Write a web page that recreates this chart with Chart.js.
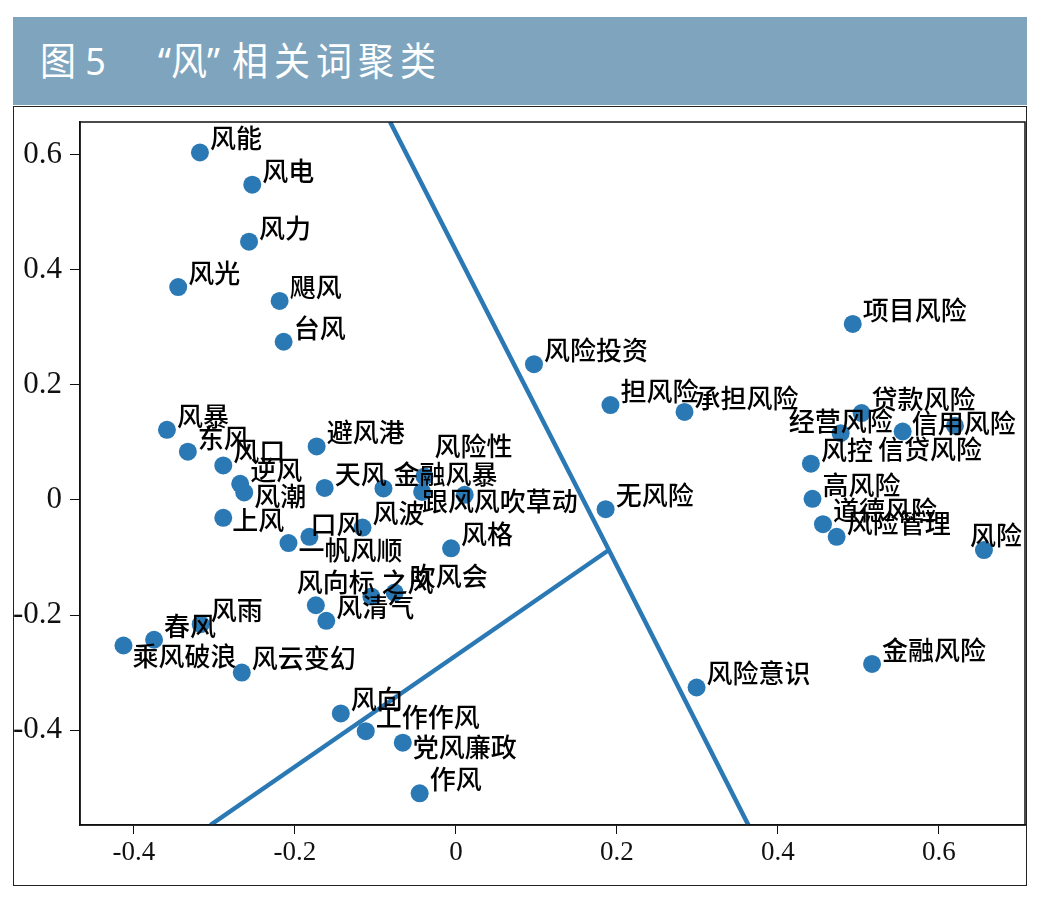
<!DOCTYPE html>
<html>
<head>
<meta charset="utf-8">
<script src="https://cdn.jsdelivr.net/npm/chart.js@4.4.1/dist/chart.umd.min.js"></script>
<style>
  html, body { margin: 0; padding: 0; background: #fff; }
  body { width: 1038px; height: 912px; position: relative; overflow: hidden; }
  #banner { position: absolute; left: 13px; top: 17px; width: 1014px; height: 88px; background: #7ea4be; }
  #banner span { position: absolute; top: 24px; color: #fff; font: 400 36px "Noto Sans", "Noto Sans CJK SC", sans-serif; line-height: 40px; white-space: pre; transform: scaleY(1.06); }
  #frame { position: absolute; left: 13px; top: 106px; width: 1012px; height: 778px; border: 1px solid #222; }
  #chart { position: absolute; left: 0; top: 0; }
</style>
</head>
<body>
<div id="banner"><span style="left:27px">图 5</span><span style="left:145px">“风”</span><span style="left:219px; letter-spacing:6px">相关词聚类</span></div>
<div id="frame"></div>
<canvas id="chart" width="1038" height="912"></canvas>
<script>
// words and their 2-d coordinates
var words = ['风能', '风电', '风力', '风光', '飓风', '台风', '风暴', '东风', '风口', '逆风',
  '风潮', '上风', '避风港', '天风', '金融风暴', '风险性', '跟风', '风吹草动', '风波', '口风',
  '一帆风顺', '风格', '风向标', '风清气', '之风', '吹风会', '乘风破浪', '春风', '风雨', '风云变幻',
  '风向', '工作作风', '党风廉政', '作风', '风险投资', '项目风险', '担风险', '承担风险', '贷款风险', '经营风险',
  '信用风险', '信贷风险', '风控', '高风险', '道德风险', '风险管理', '风险', '无风险', '风险意识', '金融风险']
var xVals = [-0.318, -0.253, -0.257, -0.345, -0.219, -0.214, -0.359, -0.333, -0.289, -0.268,
  -0.263, -0.289, -0.173, -0.163, -0.090, -0.039, -0.042, 0.011, -0.116, -0.182,
  -0.208, -0.006, -0.174, -0.161, -0.105, -0.076, -0.413, -0.375, -0.317, -0.266,
  -0.143, -0.112, -0.066, -0.045, 0.097, 0.493, 0.192, 0.284, 0.504, 0.478,
  0.555, 0.620, 0.441, 0.443, 0.456, 0.473, 0.656, 0.186, 0.299, 0.517]
var yVals = [0.604, 0.548, 0.449, 0.370, 0.346, 0.275, 0.122, 0.084, 0.060, 0.028,
  0.013, -0.031, 0.093, 0.021, 0.020, 0.041, 0.014, 0.009, -0.048, -0.064,
  -0.075, -0.084, -0.183, -0.210, -0.168, -0.161, -0.253, -0.243, -0.216, -0.300,
  -0.371, -0.402, -0.422, -0.510, 0.236, 0.306, 0.165, 0.153, 0.151, 0.116,
  0.119, 0.129, 0.063, 0.002, -0.042, -0.064, -0.087, -0.016, -0.326, -0.285]

// cluster boundaries
var boundaryA = [[-0.0817, 0.657], [0.190, -0.087], [0.3633, -0.565]]
var boundaryB = [[-0.305, -0.565], [0.190, -0.087]]

var xTicks = [-0.4, -0.2, 0, 0.2, 0.4, 0.6]
var yTicks = [-0.4, -0.2, 0, 0.2, 0.4, 0.6]

// label placement (px from the dot), default is up-right
var nudge = {
  '风潮': [10, 4], '上风': [9, 2], '口风': [1, -13], '一帆风顺': [10, 7], '风险性': [10, -30],
  '跟风': [0, 9], '风吹草动': [9, 6], '风向标': [-19, -23], '吹风会': [15, -16], '乘风破浪': [9, 11],
  '党风廉政': [10, 4], '经营风险': [-52, -12], '信用风险': [9, -8], '信贷风险': [-77, 23], '风险': [-14, -15]
}

var blue = '#2b79b4'

var points = words.map(function (w, i) { return { x: xVals[i], y: yVals[i] } })
function toXY(arr) { return arr.map(function (p) { return { x: p[0], y: p[1] } }) }

var wordLabels = {
  id: 'wordLabels',
  afterDatasetsDraw: function (chart) {
    var ctx = chart.ctx
    var a = chart.chartArea
    var meta = chart.getDatasetMeta(0)
    ctx.save()
    ctx.font = '500 26px "Noto Sans CJK SC"'
    ctx.fillStyle = '#000'
    ctx.textBaseline = 'middle'
    meta.data.forEach(function (pt, i) {
      var off = nudge[words[i]] || [10, -14]
      ctx.fillText(words[i], pt.x + off[0], pt.y + off[1])
    })
    ctx.strokeStyle = '#111'
    ctx.lineWidth = 1.5
    ctx.strokeRect(a.left, a.top, a.right - a.left, a.bottom - a.top)
    ctx.restore()
  }
}

var serif = '"Liberation Serif", "Times New Roman", serif'
function fmt(v) { return String(+v.toFixed(1)) }

new Chart(document.getElementById('chart'), {
  type: 'scatter',
  data: {
    datasets: [
      { data: points, backgroundColor: blue, borderWidth: 0, pointRadius: 9 },
      { data: toXY(boundaryA), showLine: true, borderColor: blue, borderWidth: 4.5, pointRadius: 0, fill: false },
      { data: toXY(boundaryB), showLine: true, borderColor: blue, borderWidth: 4.5, pointRadius: 0, fill: false }
    ]
  },
  options: {
    responsive: false,
    animation: false,
    devicePixelRatio: 1,
    layout: { padding: { left: 0, top: 122, right: 13, bottom: 27 } },
    plugins: { legend: { display: false }, tooltip: { enabled: false } },
    scales: {
      x: {
        type: 'linear', min: -0.467, max: 0.707,
        afterFit: function (s) { s.height = 60 },
        afterBuildTicks: function (s) { s.ticks = xTicks.map(function (v) { return { value: v } }) },
        grid: { drawOnChartArea: false, drawTicks: true, tickLength: 9, color: '#111' },
        border: { display: true, color: '#111', width: 1.5 },
        ticks: { font: { family: serif, size: 27 }, color: '#111', padding: 3, callback: fmt }
      },
      y: {
        type: 'linear', min: -0.565, max: 0.657,
        afterFit: function (s) { s.width = 80 },
        afterBuildTicks: function (s) { s.ticks = yTicks.map(function (v) { return { value: v } }) },
        grid: { drawOnChartArea: false, drawTicks: true, tickLength: 10, color: '#111' },
        border: { display: true, color: '#111', width: 1.5 },
        ticks: { font: { family: serif, size: 31 }, color: '#111', padding: 8, callback: fmt }
      }
    }
  },
  plugins: [wordLabels]
})
</script>
</body>
</html>
